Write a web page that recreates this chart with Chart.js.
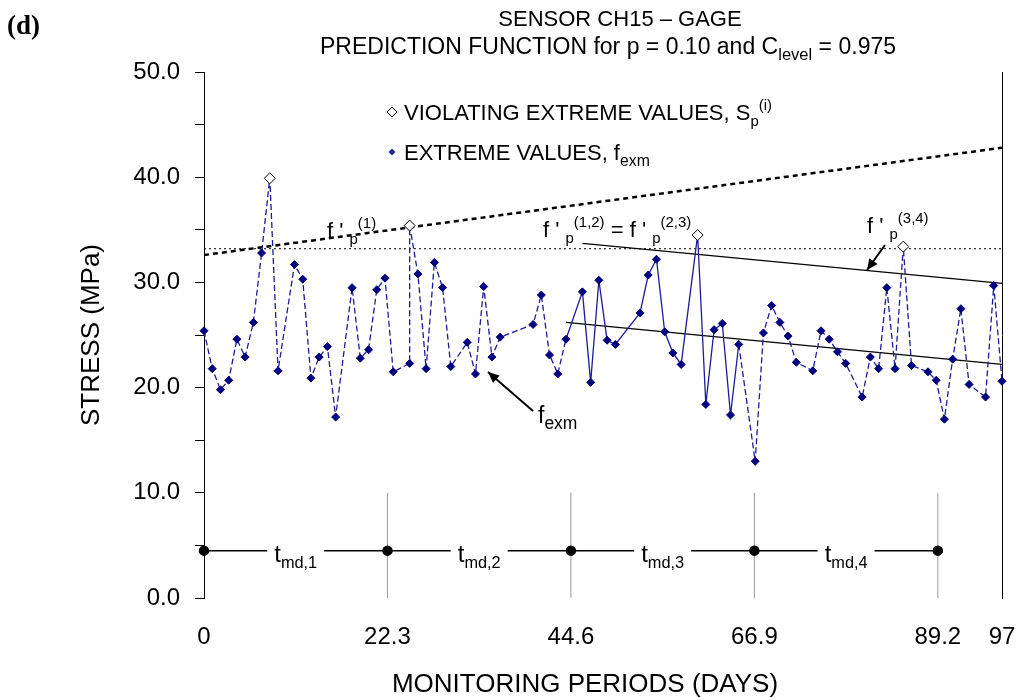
<!DOCTYPE html>
<html><head><meta charset="utf-8">
<script src="https://cdn.jsdelivr.net/npm/chart.js@4.4.1/dist/chart.umd.min.js"></script>
<style>html,body{margin:0;padding:0;background:#fff}#wrap{width:1021px;height:700px;position:relative}</style>
</head><body><div id="wrap"><canvas id="c" width="1021" height="700"></canvas></div>
<script>
// ---- data ----
const extremeDays = [0,1,2,3,4,5,6,7,8,9,11,12,13,14,15,16,18,19,20,21,22,23,25,25,26,27,28,29,30,32,33,34,35,36,40,41,42,43,44,46,47,48,49,50,53,54,55,56,57,58,60,61,62,63,64,65,67,68,69,70,71,72,74,75,76,77,78,80,81,82,83,84,85,86,88,89,90,91,92,93,95,96,97];
const extremeValues = [25.4,21.8,19.8,20.7,24.6,22.9,26.2,32.8,39.9,21.6,31.7,30.3,20.9,22.9,23.9,17.2,29.5,22.8,23.6,29.3,30.4,21.5,22.3,35.4,30.8,21.8,31.9,29.5,22.0,24.3,21.3,29.6,22.9,24.8,26.0,28.8,23.1,21.3,24.6,29.1,20.5,30.2,24.5,24.1,27.1,30.7,32.2,25.3,23.3,22.2,34.5,18.4,25.5,26.1,17.4,24.1,13.0,25.2,27.8,26.2,24.9,22.4,21.6,25.4,24.6,23.4,22.3,19.1,22.9,21.8,29.5,21.8,33.4,22.1,21.5,20.7,17.0,22.7,27.5,20.3,19.1,29.7,20.6];
const violatingDays = [8,25,60,85];
const violatingValues = [39.9,35.4,34.5,33.4];
const solidFromDay = 44, solidToDay = 65;
const thresholdDays = [0,97], thresholdValues = [33.2,33.2];
const fp1Days = [0,97], fp1Values = [32.6,42.8];
const fp12Days = [46,97], fp12Values = [33.7,29.9];
const lowerDays = [44,97], lowerValues = [26.2,22.2];
const periodDays = [0,22.3,44.6,66.9,89.2];
const periodLevel = 4.5;
const periodTop = 10;
const periodLabels = ['md,1','md,2','md,3','md,4'];
const xTickValues = [0,22.3,44.6,66.9,89.2,97];
const xTickLabels = ['0','22.3','44.6','66.9','89.2','97'];
const yMin = 0, yMax = 50, yStep = 5, yLabelStep = 10;

const FONT = '"Liberation Sans", Arial, sans-serif';
const pts = (xs, ys) => xs.map((x,i)=>({x, y: ys[i]}));
const dividerData = [];
periodDays.slice(1).forEach(d => { dividerData.push({x:d,y:0},{x:d,y:periodTop},{x:d,y:null}); });

function drawRich(ctx, x, y, parts, size, align, subScale) {
  subScale = subScale || 0.68;
  const meas = parts.map(p => { ctx.font = (p[1] ? size*subScale : size) + 'px ' + FONT; return ctx.measureText(p[0]).width; });
  const total = meas.reduce((a,b)=>a+b,0);
  let cx = align === 'center' ? x - total/2 : (align === 'right' ? x - total : x);
  ctx.textAlign = 'left'; ctx.textBaseline = 'alphabetic'; ctx.fillStyle = '#000';
  parts.forEach((p,i) => {
    const s = p[1] ? size*subScale : size;
    ctx.font = s + 'px ' + FONT;
    const dy = p[1] === 1 ? size*0.28 : (p[1] === 2 ? -size*0.45 : 0);
    ctx.fillText(p[0], cx, y + dy);
    cx += meas[i];
  });
  return total;
}
function arrow(ctx, x1, y1, x2, y2) {
  ctx.save(); ctx.strokeStyle = '#000'; ctx.fillStyle = '#000'; ctx.lineWidth = 2;
  ctx.beginPath(); ctx.moveTo(x1,y1); ctx.lineTo(x2,y2); ctx.stroke();
  const a = Math.atan2(y2-y1, x2-x1), L = 11, W = 5;
  ctx.beginPath(); ctx.moveTo(x2,y2);
  ctx.lineTo(x2 - L*Math.cos(a) + W*Math.sin(a), y2 - L*Math.sin(a) - W*Math.cos(a));
  ctx.lineTo(x2 - L*Math.cos(a) - W*Math.sin(a), y2 - L*Math.sin(a) + W*Math.cos(a));
  ctx.closePath(); ctx.fill(); ctx.restore();
}

const textPlugin = {
  id: 'texts',
  afterDraw(chart) {
    const ctx = chart.ctx, xs = chart.scales.x, ys = chart.scales.y;
    ctx.save();
    ctx.fillStyle = '#000'; ctx.font = 'bold 27px "Liberation Serif", "Times New Roman", serif';
    ctx.textAlign = 'left'; ctx.textBaseline = 'alphabetic'; ctx.fillText('(d)', 7, 34);
    drawRich(ctx, 620, 26, [['SENSOR CH15 \u2013 GAGE',0]], 22, 'center');
    drawRich(ctx, 608, 54, [['PREDICTION FUNCTION for p = 0.10 and C',0],['level',1],[' = 0.975',0]], 23, 'center', 0.72);
    ctx.save(); ctx.strokeStyle = '#000'; ctx.fillStyle = '#fff'; ctx.lineWidth = 1;
    ctx.beginPath(); ctx.moveTo(387,112); ctx.lineTo(392,107); ctx.lineTo(397,112); ctx.lineTo(392,117); ctx.closePath(); ctx.fill(); ctx.stroke();
    ctx.fillStyle = '#2a2a9a';
    ctx.beginPath(); ctx.moveTo(388.5,152); ctx.lineTo(392,148.5); ctx.lineTo(395.5,152); ctx.lineTo(392,155.5); ctx.closePath(); ctx.fill();
    ctx.restore();
    drawRich(ctx, 404, 120, [['VIOLATING EXTREME VALUES, S',0],['p',1],['(i)',2]], 22, 'left');
    drawRich(ctx, 404, 160, [['EXTREME VALUES, f',0],['exm',1]], 22, 'left', 0.72);
    drawRich(ctx, 327, 238, [["f ' ",0],['p',1],['(1)',2]], 22, 'left');
    drawRich(ctx, 543, 237, [["f ' ",0],['p',1],['(1,2)',2],[" = f ' ",0],['p',1],['(2,3)',2]], 22, 'left');
    drawRich(ctx, 867, 233, [["f ' ",0],['p',1],['(3,4)',2]], 22, 'left');
    arrow(ctx, 885, 245, 867, 270);
    drawRich(ctx, 538, 423, [['f',0],['exm',1]], 23, 'left', 0.76);
    arrow(ctx, 533, 411, 488, 372);
    const ly = ys.getPixelForValue(periodLevel);
    for (let i = 0; i < periodLabels.length; i++) {
      const cx = (xs.getPixelForValue(periodDays[i]) + xs.getPixelForValue(periodDays[i+1]))/2;
      ctx.font = '24px ' + FONT; const w1 = ctx.measureText('t').width;
      ctx.font = (24*0.68) + 'px ' + FONT; const w2 = ctx.measureText(periodLabels[i]).width;
      const w = w1 + w2;
      ctx.fillStyle = '#fff'; ctx.fillRect(cx - w/2 - 7, ly - 6, w + 14, 12);
      drawRich(ctx, cx, ly + 11, [['t',0],[periodLabels[i],1]], 24, 'center');
    }
    ctx.fillStyle = '#000'; ctx.font = '26px ' + FONT; ctx.textAlign = 'center'; ctx.textBaseline = 'middle';
    ctx.fillText('MONITORING PERIODS (DAYS)', 585, 685);
    ctx.save(); ctx.translate(92, 335); ctx.rotate(-Math.PI/2); ctx.fillText('STRESS (MPa)', 0, 0); ctx.restore();
    ctx.restore();
  }
};

new Chart(document.getElementById('c'), {
  type: 'line',
  data: {
    datasets: [
      { label: 'violating', data: pts(violatingDays, violatingValues), showLine: false, pointStyle: 'rectRot', pointRadius: 5.5, pointBackgroundColor: '#fff', pointBorderColor: '#000', pointBorderWidth: 1, order: 0, clip: false },
      { label: 'extreme', data: pts(extremeDays, extremeValues), borderColor: '#1c1c96', borderWidth: 1.3, borderDash: [6,3],
        segment: { borderDash: c => (c.p0.parsed.x >= solidFromDay && c.p1.parsed.x <= solidToDay) ? [] : [6,3] },
        pointStyle: 'rectRot', pointRadius: 4, pointBackgroundColor: '#00007f', pointBorderColor: '#00007f', pointBorderWidth: 1, order: 1, clip: false },
      { label: 'threshold', data: pts(thresholdDays, thresholdValues), borderColor: '#000', borderWidth: 1, borderDash: [2,3], pointRadius: 0, order: 2 },
      { label: 'fp1', data: pts(fp1Days, fp1Values), borderColor: '#000', borderWidth: 2.5, borderDash: [5,4], pointRadius: 0, order: 2 },
      { label: 'fp12', data: pts(fp12Days, fp12Values), borderColor: '#000', borderWidth: 1.3, pointRadius: 0, order: 2 },
      { label: 'lower', data: pts(lowerDays, lowerValues), borderColor: '#000', borderWidth: 1.3, pointRadius: 0, order: 2 },
      { label: 'periods', data: periodDays.map(d => ({x:d, y:periodLevel})), borderColor: '#000', borderWidth: 1.5, pointStyle: 'circle', pointRadius: 4.5, pointBackgroundColor: '#000', pointBorderColor: '#000', order: 3, clip: false },
      { label: 'dividers', data: dividerData, borderColor: '#9a9a9a', borderWidth: 1, pointRadius: 0, spanGaps: false, order: 4 }
    ]
  },
  options: {
    responsive: false, animation: false, devicePixelRatio: 1,
    layout: { padding: { left: 0, right: 19, top: 72, bottom: 0 } },
    plugins: { legend: { display: false }, tooltip: { enabled: false }, title: { display: false } },
    elements: { line: { tension: 0 } },
    scales: {
      x: { type: 'linear', min: 0, max: 97,
        afterBuildTicks: s => { s.ticks = xTickValues.map(v => ({ value: v })); },
        afterFit: s => { s.height = 102; s.paddingLeft = 0; s.paddingRight = 0; },
        ticks: { autoSkip: false, maxRotation: 0, padding: 25, color: '#000', font: { family: FONT, size: 24 },
          callback: (v) => { const i = xTickValues.indexOf(v); return i >= 0 ? xTickLabels[i] : ''; } },
        grid: { display: false, drawTicks: false }, border: { display: false } },
      y: { type: 'linear', min: yMin, max: yMax, position: 'left',
        afterFit: s => { s.width = 204; s.paddingTop = 0; s.paddingBottom = 0; },
        ticks: { stepSize: yStep, autoSkip: false, padding: 15, color: '#000', font: { family: FONT, size: 24 },
          callback: v => (v % yLabelStep === 0) ? v.toFixed(1) : '' },
        grid: { drawOnChartArea: false, drawTicks: true, tickLength: 9, color: '#000' },
        border: { display: true, color: '#000', width: 1 } },
      yr: { type: 'linear', min: yMin, max: yMax, position: 'right', afterFit: s => { s.width = 0; s.paddingTop = 0; s.paddingBottom = 0; },
        ticks: { display: false }, grid: { display: false, drawTicks: false }, border: { display: true, color: '#000', width: 1 } }
    }
  },
  plugins: [textPlugin]
});
</script>
</body></html>
